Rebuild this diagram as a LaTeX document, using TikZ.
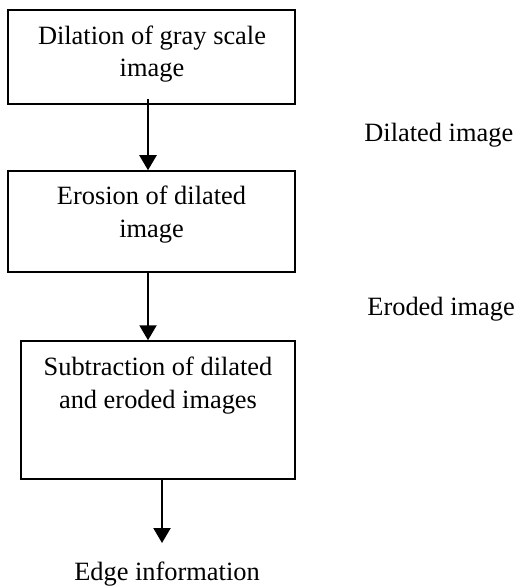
\documentclass[tikz,border=0pt]{standalone}
\usepackage{fontspec}
\setmainfont{Liberation Serif}
\usetikzlibrary{arrows.meta}
\begin{document}
\begin{tikzpicture}[x=0.5pt,y=-0.5pt,
  box/.style={draw,line width=0.75pt,inner sep=0pt,rectangle},
  txt/.style={font=\fontsize{13.2}{16.3}\selectfont,inner sep=0pt,align=center},
  arr/.style={line width=1.1pt,-{Triangle[width=8.5pt,length=7.5pt]}}]
\useasboundingbox (0,0) rectangle (516,587);
\node[box,minimum width=143.5pt,minimum height=47pt] (b1) at (151.5,57) {};
\node[box,minimum width=143.5pt,minimum height=50.5pt] (b2) at (151.5,221.5) {};
\node[box,minimum width=137pt,minimum height=69pt] (b3) at (158,410) {};
\node[txt,anchor=base] (t1) at (152,77) {Dilation of gray scale\\image};
\node[txt,anchor=base] (t2) at (151.5,237) {Erosion of dilated\\image};
\node[txt,anchor=base] (t3) at (158,408) {Subtraction of dilated\\and eroded images};
\node[txt,anchor=base west] (d) at (364,142) {Dilated image};
\node[txt,anchor=base west] (e) at (367,315) {Eroded image};
\node[txt,anchor=base] (edge) at (167,580) {Edge information};
\coordinate (e3) at (162,543);
\draw[arr,shorten <=-3pt] (b1.south -| 148,0) -- (b2.north -| 148,0);
\draw[arr] (b2.south -| 148,0) -- (b3.north -| 148,0);
\draw[arr] (b3.south -| e3) -- (e3);
\end{tikzpicture}
\end{document}
